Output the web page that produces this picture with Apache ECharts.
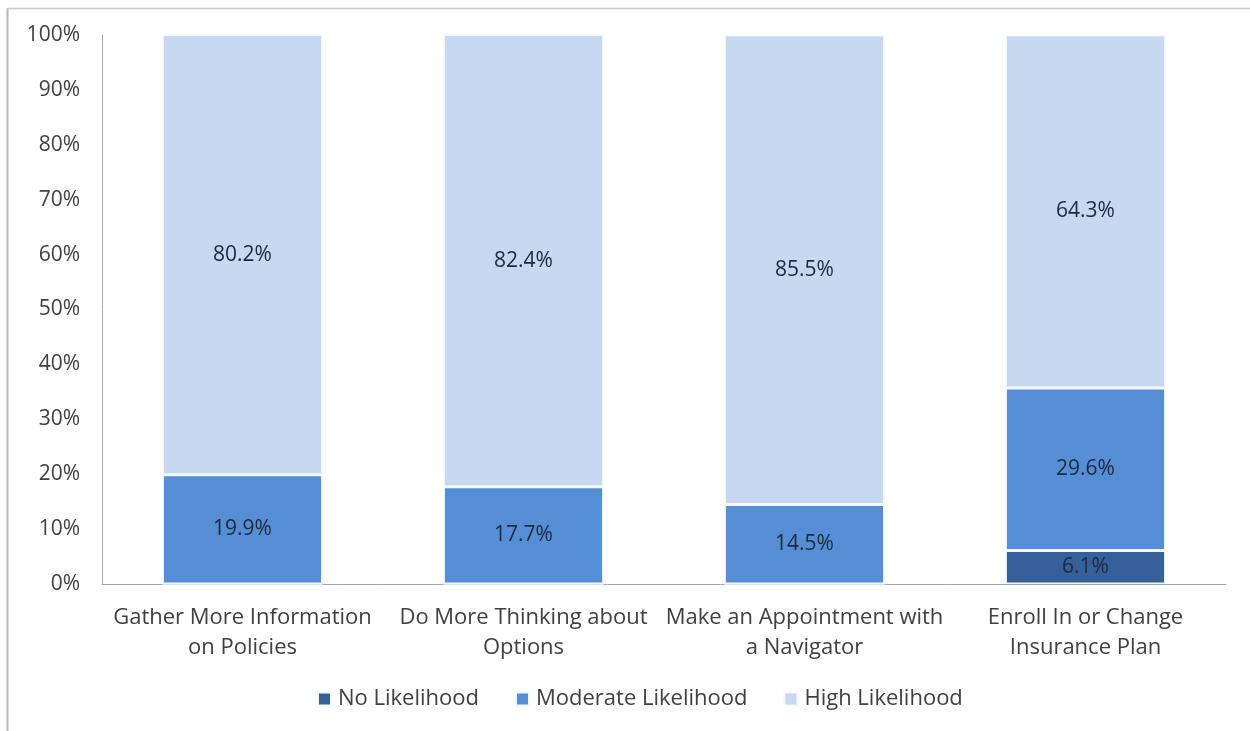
<!DOCTYPE html>
<html><head><meta charset="utf-8">
<script src="https://cdn.jsdelivr.net/npm/echarts@6/dist/echarts.min.js"></script>
<style>html,body{margin:0;padding:0;background:#fff}#c{width:1250px;height:731px}</style>
</head><body><div id="c"></div>
<script>
const categories = ["Gather More Information\non Policies", "Do More Thinking about\nOptions", "Make an Appointment with\na Navigator", "Enroll In or Change\nInsurance Plan"];
const noLikelihood = [0, 0, 0, 6.1];
const moderateLikelihood = [19.9, 17.7, 14.5, 29.6];
const highLikelihood = [80.2, 82.4, 85.5, 64.3];
const seriesNames = ["No Likelihood", "Moderate Likelihood", "High Likelihood"];
const colors = ["#36609a", "#558ed5", "#c6d9f1"];

const font = "'Open Sans', Lato, sans-serif";
const chart = echarts.init(document.getElementById('c'));
function mk(name, data, color) {
  return {
    name, type: 'bar', stack: 'total', data, barWidth: '57%',
    itemStyle: { color, borderColor: '#f4f7fb', borderWidth: 1.5 },
    label: {
      show: true, position: 'inside', fontFamily: font, fontSize: 21, color: '#1e2a3c',
      formatter: p => p.value > 0 ? p.value.toFixed(1) + '%' : ''
    }
  };
}
chart.setOption({
  animation: false,
  backgroundColor: '#fff',
  grid: { left: 102, right: 24, top: 35, bottom: 147 },
  xAxis: {
    type: 'category', data: categories,
    axisLine: { lineStyle: { color: '#a6a6a6', width: 1 } },
    axisTick: { show: false },
    axisLabel: { interval: 0, fontFamily: font, fontSize: 22, color: '#404040', lineHeight: 30, margin: 19 }
  },
  yAxis: {
    type: 'value', min: 0, max: 100, interval: 10,
    axisLine: { show: true, lineStyle: { color: '#a6a6a6', width: 1 } },
    axisTick: { show: false },
    splitLine: { show: false },
    axisLabel: { fontFamily: font, fontSize: 21, color: '#404040', margin: 22, formatter: '{value}%' }
  },
  legend: {
    bottom: 16, left: 312, itemWidth: 13, itemHeight: 13, itemGap: 36,
    icon: 'rect',
    textStyle: { fontFamily: font, fontSize: 22, color: '#404040', padding: [0, 0, 0, 2] },
    data: seriesNames
  },
  series: [
    mk(seriesNames[0], noLikelihood, colors[0]),
    mk(seriesNames[1], moderateLikelihood, colors[1]),
    mk(seriesNames[2], highLikelihood, colors[2])
  ],
  graphic: [
    { type: 'line', shape: { x1: 7.5, y1: 8, x2: 7.5, y2: 731 }, style: { stroke: '#b8b8b8', lineWidth: 2 } },
    { type: 'line', shape: { x1: 7, y1: 8.5, x2: 1250, y2: 8.5 }, style: { stroke: '#c8c8c8', lineWidth: 1.5 } }
  ]
});
</script></body></html>
